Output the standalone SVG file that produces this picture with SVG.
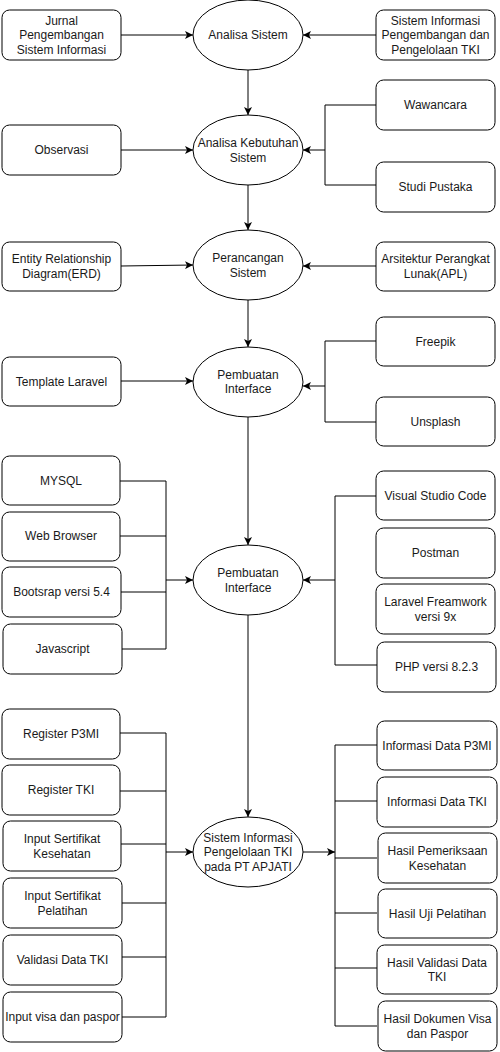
<svg xmlns="http://www.w3.org/2000/svg" width="500" height="1052" viewBox="0 0 500 1052">
  <defs>
    <marker id="arrow" viewBox="0 0 8 8" refX="8" refY="4" markerWidth="8" markerHeight="8" markerUnits="userSpaceOnUse" orient="auto">
      <path d="M0,0 L8,4 L0,8 L2,4 z" fill="#000"/>
    </marker>
    <style>
      .box { fill: #fff; stroke: #000; stroke-width: 1; }
      .proc { fill: #fff; stroke: #000; stroke-width: 1; }
      .lbl { font-family: "Liberation Sans", Arial, sans-serif; font-size: 12px; fill: #1a1a1a; text-anchor: middle; }
      .edge { fill: none; stroke: #000; stroke-width: 1; }
      .arr { marker-end: url(#arrow); }
    </style>
  </defs>
  <rect width="500" height="1052" fill="#fff"/>

  <!-- connectors -->
  <g id="connectors">
    <!-- stage 1 -->
    <line class="edge arr" x1="121" y1="35" x2="193" y2="35"/>
    <line class="edge arr" x1="376" y1="35" x2="303" y2="35"/>
    <line class="edge arr" x1="248" y1="70" x2="248" y2="115"/>
    <!-- stage 2 -->
    <line class="edge arr" x1="121" y1="150" x2="193" y2="150"/>
    <polyline class="edge" points="376,105 325,105 325,185 376,185"/>
    <line class="edge arr" x1="325" y1="150" x2="303" y2="150"/>
    <line class="edge arr" x1="248" y1="185" x2="248" y2="230"/>
    <!-- stage 3 -->
    <line class="edge arr" x1="121" y1="266" x2="193" y2="265"/>
    <line class="edge arr" x1="376" y1="266" x2="303" y2="266"/>
    <line class="edge arr" x1="248" y1="300" x2="248" y2="347"/>
    <!-- stage 4 -->
    <line class="edge arr" x1="121" y1="381" x2="193" y2="381"/>
    <polyline class="edge" points="376,341 325,341 325,422 376,422"/>
    <line class="edge arr" x1="325" y1="386" x2="303" y2="386"/>
    <line class="edge arr" x1="248" y1="417" x2="248" y2="545"/>
    <!-- stage 5 -->
    <polyline class="edge" points="120,481 166,481 166,649 122,649"/>
    <line class="edge" x1="120" y1="536" x2="166" y2="536"/>
    <line class="edge" x1="121" y1="592" x2="166" y2="592"/>
    <line class="edge arr" x1="166" y1="580" x2="193" y2="580"/>
    <polyline class="edge" points="376,496 335,496 335,665 377,665"/>
    <line class="edge arr" x1="335" y1="580" x2="303" y2="580"/>
    <line class="edge arr" x1="248" y1="615" x2="248" y2="817"/>
    <!-- stage 6 inputs -->
    <polyline class="edge" points="120,733 166,733 166,1017 122,1017"/>
    <line class="edge" x1="120" y1="791" x2="166" y2="791"/>
    <line class="edge" x1="121" y1="844" x2="166" y2="844"/>
    <line class="edge" x1="122" y1="903" x2="166" y2="903"/>
    <line class="edge" x1="122" y1="957" x2="166" y2="957"/>
    <line class="edge arr" x1="166" y1="852" x2="193" y2="852"/>
    <!-- stage 6 outputs -->
    <line class="edge arr" x1="303" y1="852" x2="335" y2="852"/>
    <polyline class="edge" points="377,745 335,745 335,1026 377,1026"/>
    <line class="edge" x1="335" y1="801" x2="377" y2="801"/>
    <line class="edge" x1="335" y1="858" x2="377" y2="858"/>
    <line class="edge" x1="335" y1="913" x2="377" y2="913"/>
    <line class="edge" x1="335" y1="968" x2="377" y2="968"/>
  </g>

  <!-- stage 1 -->
  <g id="jurnal">
    <rect class="box" x="2" y="10" width="119" height="50" rx="7.5"/>
    <text class="lbl" x="61.5"><tspan x="61.5" y="24.5">Jurnal</tspan><tspan x="61.5" y="39">Pengembangan</tspan><tspan x="61.5" y="53.5">Sistem Informasi</tspan></text>
  </g>
  <g id="analisa-sistem">
    <ellipse class="proc" cx="248" cy="35" rx="55" ry="35"/>
    <text class="lbl" x="248" y="39">Analisa Sistem</text>
  </g>
  <g id="si-tki">
    <rect class="box" x="376" y="10" width="119" height="50" rx="7.5"/>
    <text class="lbl"><tspan x="435.5" y="24.5">Sistem Informasi</tspan><tspan x="435.5" y="39">Pengembangan dan</tspan><tspan x="435.5" y="53.5">Pengelolaan TKI</tspan></text>
  </g>

  <!-- stage 2 -->
  <g id="observasi">
    <rect class="box" x="2" y="125" width="119" height="50" rx="7.5"/>
    <text class="lbl" x="61.5" y="154">Observasi</text>
  </g>
  <g id="analisa-kebutuhan">
    <ellipse class="proc" cx="248" cy="150" rx="55" ry="35"/>
    <text class="lbl"><tspan x="248" y="147">Analisa Kebutuhan</tspan><tspan x="248" y="161.5">Sistem</tspan></text>
  </g>
  <g id="wawancara">
    <rect class="box" x="376" y="80" width="119" height="50" rx="7.5"/>
    <text class="lbl" x="435.5" y="109">Wawancara</text>
  </g>
  <g id="studi-pustaka">
    <rect class="box" x="376" y="162" width="119" height="50" rx="7.5"/>
    <text class="lbl" x="435.5" y="191">Studi Pustaka</text>
  </g>

  <!-- stage 3 -->
  <g id="erd">
    <rect class="box" x="2" y="242" width="119" height="49" rx="7.5"/>
    <text class="lbl"><tspan x="61.5" y="263">Entity Relationship</tspan><tspan x="61.5" y="277.5">Diagram(ERD)</tspan></text>
  </g>
  <g id="perancangan">
    <ellipse class="proc" cx="248" cy="265" rx="55" ry="35"/>
    <text class="lbl"><tspan x="248" y="262">Perancangan</tspan><tspan x="248" y="276.5">Sistem</tspan></text>
  </g>
  <g id="apl">
    <rect class="box" x="376" y="242" width="119" height="49" rx="7.5"/>
    <text class="lbl"><tspan x="435.5" y="263">Arsitektur Perangkat</tspan><tspan x="435.5" y="277.5">Lunak(APL)</tspan></text>
  </g>

  <!-- stage 4 -->
  <g id="template-laravel">
    <rect class="box" x="2" y="357" width="119" height="49" rx="7.5"/>
    <text class="lbl" x="61.5" y="385.5">Template Laravel</text>
  </g>
  <g id="pembuatan-interface-1">
    <ellipse class="proc" cx="248" cy="382" rx="55" ry="35"/>
    <text class="lbl"><tspan x="248" y="378.5">Pembuatan</tspan><tspan x="248" y="393">Interface</tspan></text>
  </g>
  <g id="freepik">
    <rect class="box" x="376" y="317" width="119" height="49" rx="7.5"/>
    <text class="lbl" x="435.5" y="345.5">Freepik</text>
  </g>
  <g id="unsplash">
    <rect class="box" x="376" y="397" width="119" height="49" rx="7.5"/>
    <text class="lbl" x="435.5" y="425.5">Unsplash</text>
  </g>

  <!-- stage 5 -->
  <g id="mysql">
    <rect class="box" x="2" y="456" width="118" height="49" rx="7.5"/>
    <text class="lbl" x="61" y="484.5">MYSQL</text>
  </g>
  <g id="web-browser">
    <rect class="box" x="2" y="512" width="118" height="49" rx="7.5"/>
    <text class="lbl" x="61" y="540">Web Browser</text>
  </g>
  <g id="bootstrap">
    <rect class="box" x="2" y="567" width="119" height="50" rx="7.5"/>
    <text class="lbl" x="61.5" y="596">Bootsrap versi 5.4</text>
  </g>
  <g id="javascript">
    <rect class="box" x="3" y="624" width="119" height="50" rx="7.5"/>
    <text class="lbl" x="62.5" y="653">Javascript</text>
  </g>
  <g id="pembuatan-interface-2">
    <ellipse class="proc" cx="248" cy="580" rx="55" ry="35"/>
    <text class="lbl"><tspan x="248" y="577">Pembuatan</tspan><tspan x="248" y="591.5">Interface</tspan></text>
  </g>
  <g id="vscode">
    <rect class="box" x="376" y="471" width="119" height="49" rx="7.5"/>
    <text class="lbl" x="435.5" y="499.5">Visual Studio Code</text>
  </g>
  <g id="postman">
    <rect class="box" x="376" y="528" width="119" height="50" rx="7.5"/>
    <text class="lbl" x="435.5" y="557">Postman</text>
  </g>
  <g id="laravel">
    <rect class="box" x="376" y="584" width="119" height="50" rx="7.5"/>
    <text class="lbl"><tspan x="435.5" y="606">Laravel Freamwork</tspan><tspan x="435.5" y="620.5">versi 9x</tspan></text>
  </g>
  <g id="php">
    <rect class="box" x="377" y="642" width="119" height="50" rx="7.5"/>
    <text class="lbl" x="436.5" y="671">PHP versi 8.2.3</text>
  </g>

  <!-- stage 6 inputs -->
  <g id="register-p3mi">
    <rect class="box" x="2" y="709" width="118" height="50" rx="7.5"/>
    <text class="lbl" x="61" y="738">Register P3MI</text>
  </g>
  <g id="register-tki">
    <rect class="box" x="2" y="765" width="118" height="50" rx="7.5"/>
    <text class="lbl" x="61" y="794">Register TKI</text>
  </g>
  <g id="sertifikat-kesehatan">
    <rect class="box" x="3" y="821" width="118" height="50" rx="7.5"/>
    <text class="lbl"><tspan x="62" y="843">Input Sertifikat</tspan><tspan x="62" y="857.5">Kesehatan</tspan></text>
  </g>
  <g id="sertifikat-pelatihan">
    <rect class="box" x="3" y="878" width="119" height="50" rx="7.5"/>
    <text class="lbl"><tspan x="62.5" y="900">Input Sertifikat</tspan><tspan x="62.5" y="914.5">Pelatihan</tspan></text>
  </g>
  <g id="validasi-data">
    <rect class="box" x="3" y="935" width="119" height="50" rx="7.5"/>
    <text class="lbl" x="62.5" y="964">Validasi Data TKI</text>
  </g>
  <g id="visa-paspor">
    <rect class="box" x="3" y="992" width="119" height="50" rx="7.5"/>
    <text class="lbl" x="62.5" y="1021">Input visa dan paspor</text>
  </g>

  <g id="sistem-informasi">
    <ellipse class="proc" cx="248" cy="852" rx="55" ry="35"/>
    <text class="lbl"><tspan x="248" y="841.5">Sistem Informasi</tspan><tspan x="248" y="856">Pengelolaan TKI</tspan><tspan x="248" y="870.5">pada PT APJATI</tspan></text>
  </g>

  <!-- stage 6 outputs -->
  <g id="info-p3mi">
    <rect class="box" x="377" y="721" width="120" height="49" rx="7.5"/>
    <text class="lbl" x="437" y="749.5">Informasi Data P3MI</text>
  </g>
  <g id="info-tki">
    <rect class="box" x="377" y="777" width="120" height="50" rx="7.5"/>
    <text class="lbl" x="437" y="805.5">Informasi Data TKI</text>
  </g>
  <g id="hasil-kesehatan">
    <rect class="box" x="378" y="833" width="119" height="50" rx="7.5"/>
    <text class="lbl"><tspan x="437.5" y="855">Hasil Pemeriksaan</tspan><tspan x="437.5" y="869.5">Kesehatan</tspan></text>
  </g>
  <g id="hasil-pelatihan">
    <rect class="box" x="378" y="889" width="119" height="49" rx="7.5"/>
    <text class="lbl" x="437.5" y="917.5">Hasil Uji Pelatihan</text>
  </g>
  <g id="hasil-validasi">
    <rect class="box" x="377" y="945" width="120" height="49" rx="7.5"/>
    <text class="lbl"><tspan x="437" y="966.5">Hasil Validasi Data</tspan><tspan x="437" y="981">TKI</tspan></text>
  </g>
  <g id="hasil-dokumen">
    <rect class="box" x="378" y="1001" width="119" height="50" rx="7.5"/>
    <text class="lbl"><tspan x="437.5" y="1023">Hasil Dokumen Visa</tspan><tspan x="437.5" y="1037.5">dan Paspor</tspan></text>
  </g>
</svg>
